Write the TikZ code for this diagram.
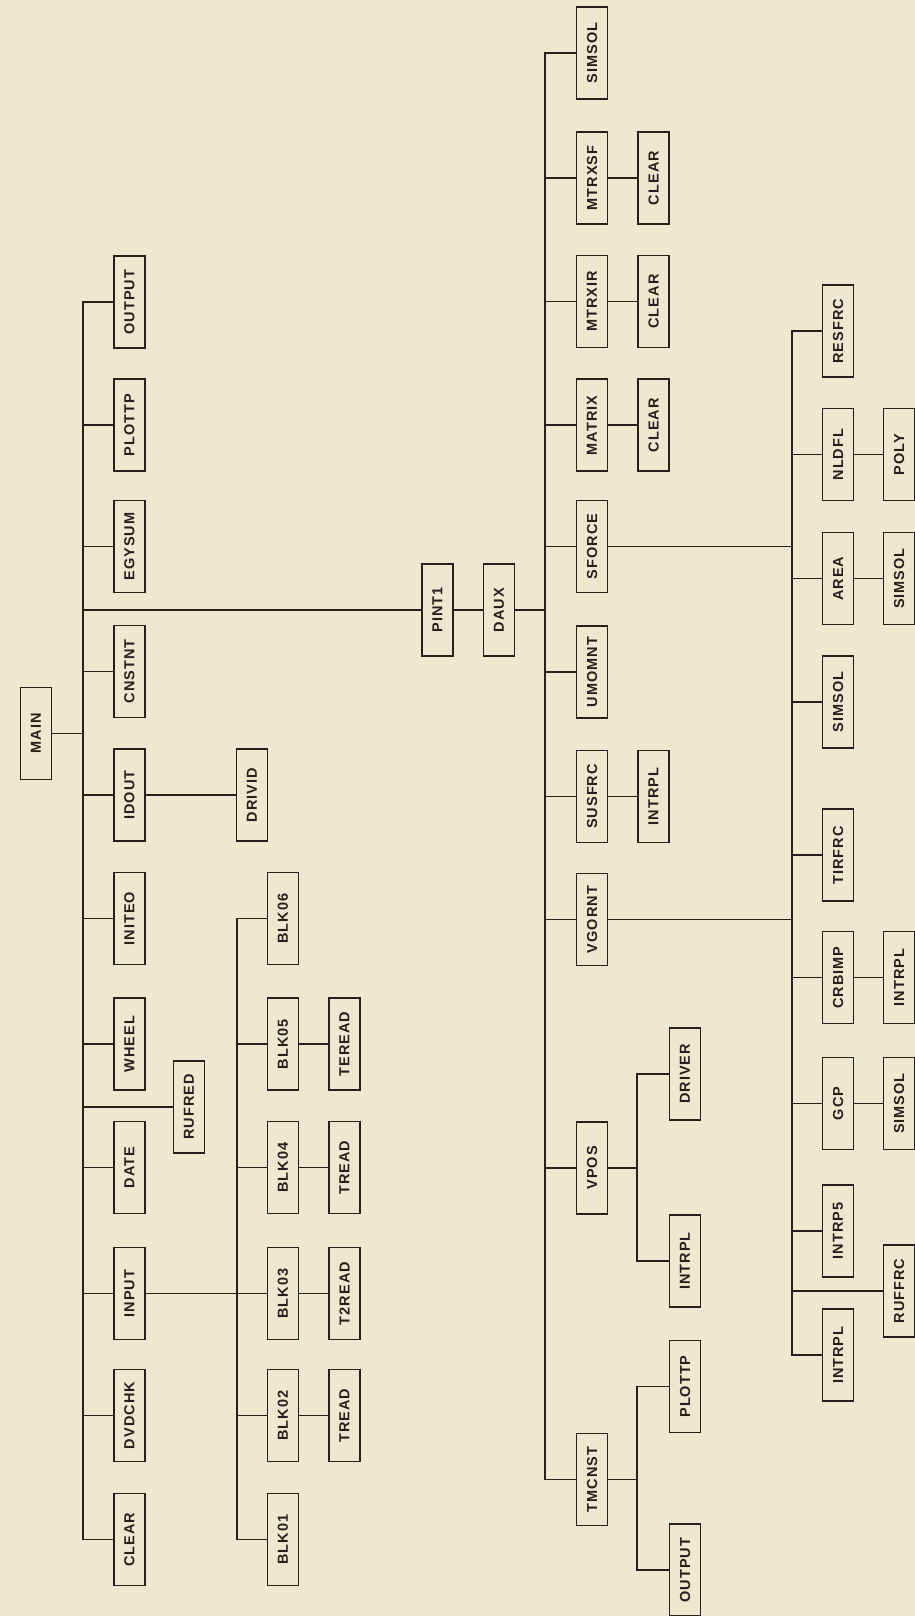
\documentclass[tikz,border=0pt]{standalone}
\usepackage{fontspec}
\setmainfont{Liberation Sans}
\newfontfamily\boxfont[LetterSpace=7]{Liberation Sans}
\usetikzlibrary{calc}
\definecolor{paper}{RGB}{240,231,209}
\definecolor{ink}{RGB}{38,32,26}
\newcommand{\vlab}[1]{\rotatebox{90}{#1}}
\tikzset{
  modbox/.style={draw=ink, line width=1.7pt, minimum width=31pt, minimum height=92pt, inner sep=0pt,
    text=ink, font=\boxfont\fontsize{14.5}{14.5}\selectfont\bfseries},
  wire/.style={draw=ink, line width=1.7pt, line cap=rect},
}
\begin{document}
\begin{tikzpicture}[x=1pt, y=-1pt]
    \path[use as bounding box, fill=paper] (0,0) rectangle (915,1616);

    % left half: MAIN and its callees
    \node[modbox] (main) at (36,733.5) {\vlab{MAIN}};
    \node[modbox] (output) at (129.5,302) {\vlab{OUTPUT}};
    \node[modbox] (plottp) at (129.5,425) {\vlab{PLOTTP}};
    \node[modbox] (egysum) at (129.5,546.5) {\vlab{EGYSUM}};
    \node[modbox] (cnstnt) at (129.5,671.5) {\vlab{CNSTNT}};
    \node[modbox] (idout) at (129.5,795) {\vlab{IDOUT}};
    \node[modbox] (initeo) at (129.5,918.5) {\vlab{INITEO}};
    \node[modbox] (wheel) at (129.5,1044) {\vlab{WHEEL}};
    \node[modbox] (date) at (129.5,1167.5) {\vlab{DATE}};
    \node[modbox] (input) at (129.5,1293.5) {\vlab{INPUT}};
    \node[modbox] (dvdchk) at (129.5,1415.5) {\vlab{DVDCHK}};
    \node[modbox] (clear) at (129.5,1539.5) {\vlab{CLEAR}};
    \node[modbox] (rufred) at (189,1107) {\vlab{RUFRED}};
    \node[modbox] (drivid) at (252,795) {\vlab{DRIVID}};

    \node[modbox] (blk06) at (283,918.5) {\vlab{BLK06}};
    \node[modbox] (blk05) at (283,1044) {\vlab{BLK05}};
    \node[modbox] (blk04) at (283,1167.5) {\vlab{BLK04}};
    \node[modbox] (blk03) at (283,1293.5) {\vlab{BLK03}};
    \node[modbox] (blk02) at (283,1415.5) {\vlab{BLK02}};
    \node[modbox] (blk01) at (283,1539.5) {\vlab{BLK01}};
    \node[modbox] (teread) at (344.5,1044) {\vlab{TEREAD}};
    \node[modbox] (tread4) at (344.5,1167.5) {\vlab{TREAD}};
    \node[modbox] (t2read) at (344.5,1293.5) {\vlab{T2READ}};
    \node[modbox] (tread2) at (344.5,1415.5) {\vlab{TREAD}};

    \node[modbox] (pint1) at (437.5,610) {\vlab{PINT1}};
    \node[modbox] (daux) at (499,610) {\vlab{DAUX}};

    % right half: DAUX and its callees
    \node[modbox] (simsol) at (592,53) {\vlab{SIMSOL}};
    \node[modbox] (mtrxsf) at (592,178) {\vlab{MTRXSF}};
    \node[modbox] (mtrxir) at (592,301.5) {\vlab{MTRXIR}};
    \node[modbox] (matrix) at (592,425.3) {\vlab{MATRIX}};
    \node[modbox] (sforce) at (592,546.4) {\vlab{SFORCE}};
    \node[modbox] (umomnt) at (592,672) {\vlab{UMOMNT}};
    \node[modbox] (susfrc) at (592,796.4) {\vlab{SUSFRC}};
    \node[modbox] (vgornt) at (592,919.6) {\vlab{VGORNT}};
    \node[modbox] (vpos) at (592,1167.8) {\vlab{VPOS}};
    \node[modbox] (tmcnst) at (592,1479.5) {\vlab{TMCNST}};

    \node[modbox] (clrmsf) at (653.5,178) {\vlab{CLEAR}};
    \node[modbox] (clrmir) at (653.5,301.5) {\vlab{CLEAR}};
    \node[modbox] (clrmat) at (653.5,425.3) {\vlab{CLEAR}};
    \node[modbox] (intsus) at (653.5,796.4) {\vlab{INTRPL}};
    \node[modbox] (driver) at (685,1074) {\vlab{DRIVER}};
    \node[modbox] (intvps) at (685,1261) {\vlab{INTRPL}};
    \node[modbox] (plottm) at (685,1386.5) {\vlab{PLOTTP}};
    \node[modbox] (outtm) at (685,1570) {\vlab{OUTPUT}};

    \node[modbox] (resfrc) at (838,331.3) {\vlab{RESFRC}};
    \node[modbox] (nldfl) at (838,454.6) {\vlab{NLDFL}};
    \node[modbox] (area) at (838,578.6) {\vlab{AREA}};
    \node[modbox] (simfrc) at (838,701.8) {\vlab{SIMSOL}};
    \node[modbox] (tirfrc) at (838,855.3) {\vlab{TIRFRC}};
    \node[modbox] (crbimp) at (838,977.5) {\vlab{CRBIMP}};
    \node[modbox] (gcp) at (838,1103.5) {\vlab{GCP}};
    \node[modbox] (intrp5) at (838,1231) {\vlab{INTRP5}};
    \node[modbox] (intfrc) at (838,1355.2) {\vlab{INTRPL}};
    \node[modbox] (poly) at (899,454.6) {\vlab{POLY}};
    \node[modbox] (simarea) at (899,578.6) {\vlab{SIMSOL}};
    \node[modbox] (intcrb) at (899,977.5) {\vlab{INTRPL}};
    \node[modbox] (simgcp) at (899,1103.5) {\vlab{SIMSOL}};
    \node[modbox] (ruffrc) at (899,1291) {\vlab{RUFFRC}};

    \coordinate (lbus) at (83,0);
    \coordinate (lsub) at (237,0);
    \coordinate (rbus) at (545,0);
    \coordinate (rsub) at (637,0);
    \coordinate (fbus) at (792,0);

    % MAIN level
    \draw[wire] (main.east) -- (main.east -| lbus);
    \draw[wire] (output.west -| lbus) -- (clear.west -| lbus);
    \foreach \n in {output,plottp,egysum,pint1,cnstnt,idout,initeo,wheel,rufred,date,input,dvdchk,clear}
      \draw[wire] (\n.west -| lbus) -- (\n.west);
    \draw[wire] (idout.east) -- (drivid.west);
    \draw[wire] (input.east) -- (blk03.west);
    \draw[wire] (blk06.west -| lsub) -- (blk01.west -| lsub);
    \foreach \n in {blk06,blk05,blk04,blk02,blk01}
      \draw[wire] (\n.west -| lsub) -- (\n.west);
    \draw[wire] (blk05.east) -- (teread.west);
    \draw[wire] (blk04.east) -- (tread4.west);
    \draw[wire] (blk03.east) -- (t2read.west);
    \draw[wire] (blk02.east) -- (tread2.west);
    \draw[wire] (pint1.east) -- (daux.west);

    % DAUX level
    \draw[wire] (daux.east) -- (daux.east -| rbus);
    \draw[wire] (simsol.west -| rbus) -- (tmcnst.west -| rbus);
    \foreach \n in {simsol,mtrxsf,mtrxir,matrix,sforce,umomnt,susfrc,vgornt,vpos,tmcnst}
      \draw[wire] (\n.west -| rbus) -- (\n.west);
    \draw[wire] (mtrxsf.east) -- (clrmsf.west);
    \draw[wire] (mtrxir.east) -- (clrmir.west);
    \draw[wire] (matrix.east) -- (clrmat.west);
    \draw[wire] (susfrc.east) -- (intsus.west);
    \draw[wire] (vpos.east) -- (vpos.east -| rsub);
    \draw[wire] (driver.west -| rsub) -- (intvps.west -| rsub);
    \draw[wire] (driver.west -| rsub) -- (driver.west);
    \draw[wire] (intvps.west -| rsub) -- (intvps.west);
    \draw[wire] (tmcnst.east) -- (tmcnst.east -| rsub);
    \draw[wire] (plottm.west -| rsub) -- (outtm.west -| rsub);
    \draw[wire] (plottm.west -| rsub) -- (plottm.west);
    \draw[wire] (outtm.west -| rsub) -- (outtm.west);

    % SFORCE / VGORNT level
    \draw[wire] (sforce.east) -- (sforce.east -| fbus);
    \draw[wire] (vgornt.east) -- (vgornt.east -| fbus);
    \draw[wire] (resfrc.west -| fbus) -- (intfrc.west -| fbus);
    \foreach \n in {resfrc,nldfl,area,simfrc,tirfrc,crbimp,gcp,intrp5,ruffrc,intfrc}
      \draw[wire] (\n.west -| fbus) -- (\n.west);
    \draw[wire] (nldfl.east) -- (poly.west);
    \draw[wire] (area.east) -- (simarea.west);
    \draw[wire] (crbimp.east) -- (intcrb.west);
    \draw[wire] (gcp.east) -- (simgcp.west);
\end{tikzpicture}
\end{document}
